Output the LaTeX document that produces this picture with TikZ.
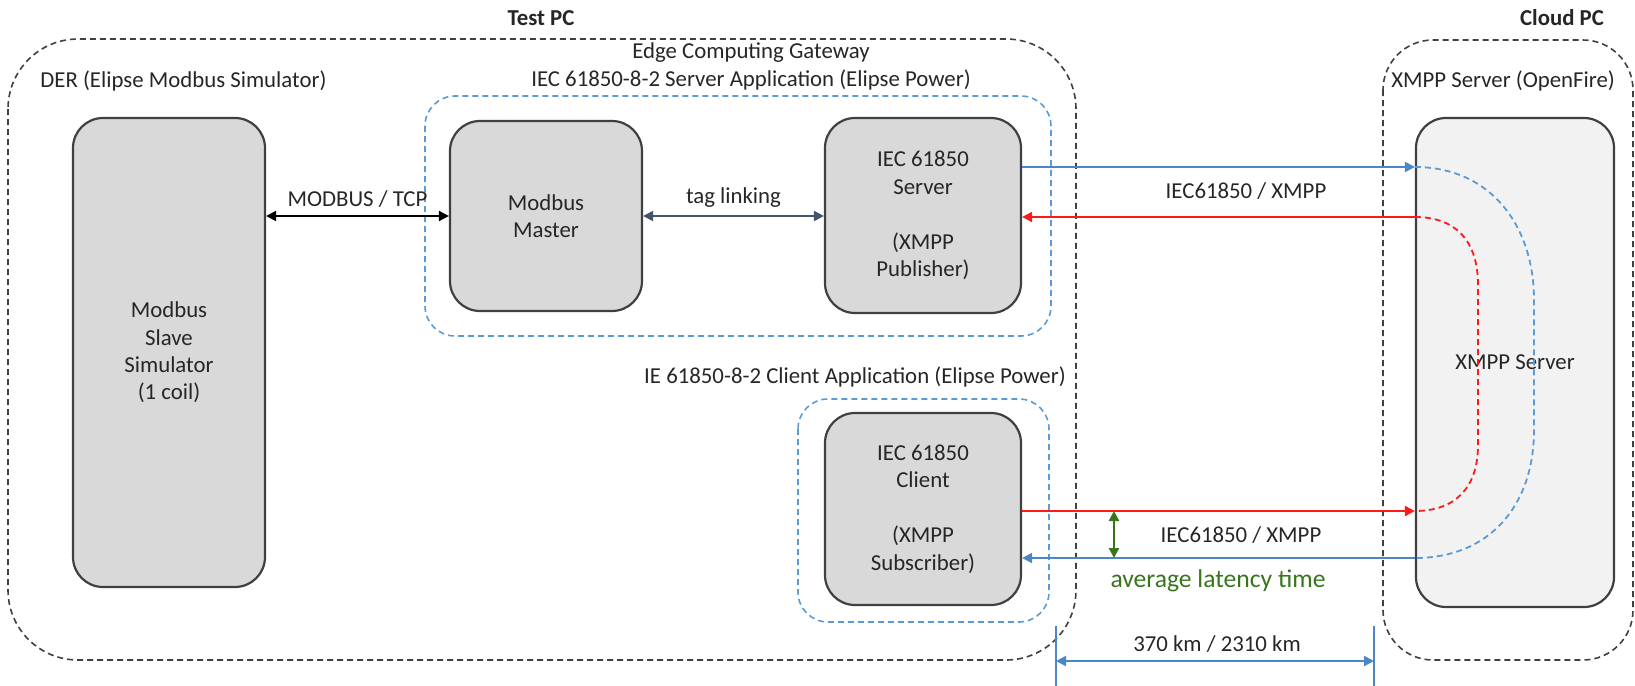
\documentclass[tikz,border=0pt]{standalone}
\usepackage{fontspec}
\setmainfont{Carlito}
\usetikzlibrary{arrows.meta,calc}
\definecolor{boxfill}{HTML}{D9D9D9}
\definecolor{boxdraw}{HTML}{404040}
\definecolor{xmppfill}{HTML}{F2F2F2}
\definecolor{dashblue}{HTML}{5B9BD5}
\definecolor{arrblue}{HTML}{4A86C8}
\definecolor{arrred}{HTML}{FF1A1A}
\definecolor{latgreen}{RGB}{56,118,29}
\definecolor{taglink}{HTML}{44546A}
\definecolor{txt}{HTML}{262626}
\begin{document}
\begin{tikzpicture}[x=0.5pt,y=-0.5pt,
  font=\fontsize{11.4}{13.7}\selectfont, text=txt,
  box/.style={draw=boxdraw, line width=1.1pt, fill=boxfill, rounded corners=15pt, align=center, inner sep=0pt},
  outerbox/.style={draw=boxdraw, line width=0.8pt, dash pattern=on 3pt off 2pt, rounded corners=35pt},
  appbox/.style={draw=dashblue, line width=0.8pt, dash pattern=on 3pt off 2pt, rounded corners=15pt},
  lbl/.style={inner sep=1pt},
  tip/.style={-{Triangle[length=5pt,width=5pt]}},
  bitip/.style={{Triangle[length=5pt,width=5pt]}-{Triangle[length=5pt,width=5pt]}},
  flowblue/.style={draw=arrblue, line width=1pt},
  flowred/.style={draw=arrred, line width=1pt},
  dashflow/.style={line width=0.9pt, dash pattern=on 3pt off 2pt}]
\path[use as bounding box] (0,0) rectangle (1635,686);

% containers
\draw[outerbox] (8,39) rectangle (1076,660);
\draw[outerbox, rounded corners=25pt] (1383,40) rectangle (1633,660);
\draw[appbox] (425,96) rectangle (1051,336);
\draw[appbox] (798,399) rectangle (1049,622);

% titles and labels
\node[font=\fontsize{11.4}{13.7}\bfseries\selectfont] (testpct) at (541,18) {Test PC};
\node[font=\fontsize{11.4}{13.7}\bfseries\selectfont] (cloudpct) at (1562,18) {Cloud PC};
\node[lbl, anchor=west] (derl) at (38,81) {DER (Elipse Modbus Simulator)};
\node[lbl] (edgel) at (751,53) {Edge Computing Gateway};
\node[lbl] (srvappl) at (751,80) {IEC 61850-8-2 Server Application (Elipse Power)};
\node[lbl] (cliappl) at (855,377) {IE 61850-8-2 Client Application (Elipse Power)};
\node[lbl] (xmppl) at (1503,81) {XMPP Server (OpenFire)};

% boxes
\node[box, minimum width=96pt, minimum height=234.5pt] (slave) at (169,352.5)
  {Modbus\\Slave\\Simulator\\(1 coil)};
\node[box, minimum width=96pt, minimum height=95pt] (master) at (546,216)
  {Modbus\\Master};
\node[box, minimum width=98pt, minimum height=97.5pt] (server) at (923,215.5)
  {IEC 61850\\Server\\[13.7pt](XMPP\\Publisher)};
\node[box, minimum width=98pt, minimum height=96pt] (client) at (923,509)
  {IEC 61850\\Client\\[13.7pt](XMPP\\Subscriber)};
\node[box, fill=xmppfill, minimum width=99pt, minimum height=244.5pt] (xmpp) at (1515,362.5)
  {XMPP Server};

% helper coordinates
\coordinate (ytop) at (0,167);
\coordinate (ytop2) at (0,217);
\coordinate (ybot) at (0,511);
\coordinate (ybot2) at (0,558);

% local links
\draw[bitip, draw=black, line width=1pt] (slave.east |- master.west) -- (master.west)
  node[lbl, midway, above=3pt] (modbusl) {MODBUS / TCP};
\draw[bitip, draw=taglink, line width=1pt] (master.east) -- (server.west |- master.east)
  node[lbl, midway, above=3pt] (tagl) {tag linking};

% XMPP flows
\draw[tip, flowblue] (server.east |- ytop) -- (xmpp.west |- ytop);
\draw[tip, flowred] (xmpp.west |- ytop2) -- (server.east |- ytop2);
\node[lbl] (flowl1) at (1246,191) {IEC61850 / XMPP};
\draw[tip, flowred] (client.east |- ybot) -- (xmpp.west |- ybot);
\draw[tip, flowblue] (xmpp.west |- ybot2) -- (client.east |- ybot2);
\node[lbl] (flowl2) at (1241,535) {IEC61850 / XMPP};

% dashed routes inside XMPP server
\draw[dashflow, draw=arrred] (xmpp.west |- ytop2)
  .. controls (1455,217) and (1478,240) .. (1478,285) -- (1478,445)
  .. controls (1478,488) and (1455,511) .. (xmpp.west |- ybot);
\draw[dashflow, draw=dashblue] (xmpp.west |- ytop)
  .. controls (1490,167) and (1534,225) .. (1534,300) -- (1534,430)
  .. controls (1534,505) and (1490,558) .. (xmpp.west |- ybot2);

% latency
\coordinate (lat1) at (1114,511);
\coordinate (lat2) at (1114,558);
\draw[bitip, draw=latgreen, line width=1.2pt] (lat1) -- (lat2);
\node[lbl, text=latgreen, font=\fontsize{12.8}{14}\selectfont] (latl) at (1218,581) {average latency time};

% distance
\coordinate (d1a) at (1056,626);
\coordinate (d1b) at (1056,686);
\coordinate (d2a) at (1374,626);
\coordinate (d2b) at (1374,686);
\draw[draw=arrblue, line width=0.9pt] (d1a) -- (d1b);
\draw[draw=arrblue, line width=0.9pt] (d2a) -- (d2b);
\draw[bitip, flowblue] (1056,661) -- (1374,661);
\node[lbl] (distl) at (1217,644) {370 km / 2310 km};
\end{tikzpicture}
\end{document}
